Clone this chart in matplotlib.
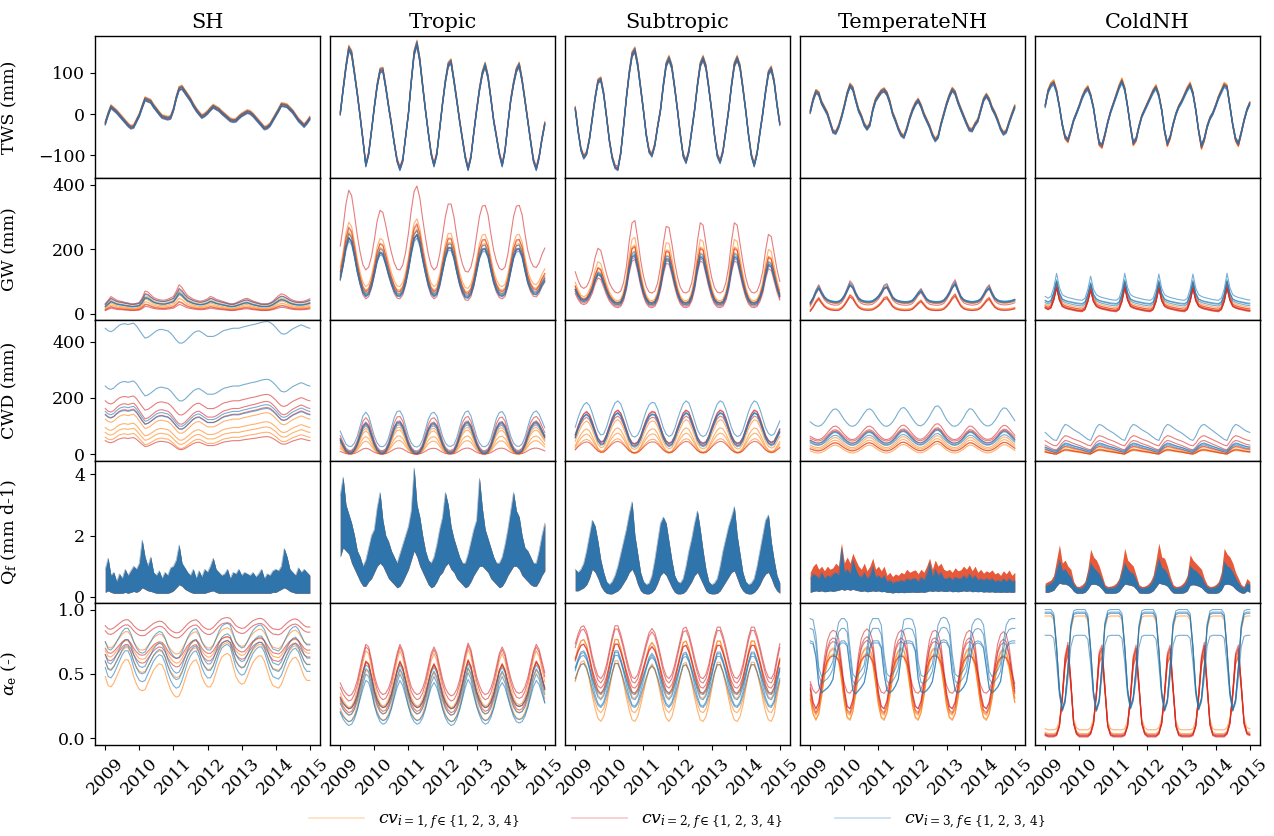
import numpy as np
import matplotlib
matplotlib.use("Agg")
import matplotlib.pyplot as plt
from matplotlib.lines import Line2D

plt.rcParams['font.family'] = 'DejaVu Serif'
plt.rcParams['mathtext.fontset'] = 'dejavuserif'

# monthly samples, Jan 2009 .. Jan 2015
months = np.arange(73)
t = 2009 + months / 12.0

regions = ['SH', 'Tropic', 'Subtropic', 'TemperateNH', 'ColdNH']
row_labels = ['TWS (mm)', 'GW (mm)', 'CWD (mm)', r'Q$_\mathrm{f}$ (mm d-1)', r'$\alpha_\mathrm{e}$ (-)']
row_ylim = [(-155, 190), (-18, 421), (-25, 478), (-0.2, 4.42), (-0.05, 1.05)]
row_yticks = [[-100, 0, 100], [0, 200, 400], [0, 200, 400], [0, 2, 4], [0.0, 0.5, 1.0]]
year_ticks = [2009, 2010, 2011, 2012, 2013, 2014, 2015]
cv_colors = {1: '#ff7f0e', 2: '#d62728', 3: '#1f77b4'}

# ---------------- TWS (mm) ----------------
tws_sh = [-22, 0, 18, 12, 6, -2, -10, -18, -26, -32, -30, -16,
          -2, 18, 37, 34, 31, 20, 11, 2, -6, -8, -10, -8,
          11, 40, 62, 65, 55, 45, 35, 22, 11, 2, -6, -2,
          4, 12, 19, 15, 11, 4, -2, -8, -14, -16, -15, -8,
          -2, 2, 6, 4, -2, -10, -18, -26, -34, -32, -26, -14,
          -2, 10, 23, 22, 20, 13, 6, -4, -14, -21, -28, -20,
          -10]
tws_tropic = [2, 60, 115, 160, 148, 100, 50, -5, -63, -124, -96, -40,
              18, 70, 106, 108, 67, 20, -23, -70, -112, -133, -112, -55,
              2, 80, 148, 172, 132, 70, 10, -45, -96, -124, -96, -35,
              26, 80, 120, 128, 83, 35, -15, -60, -104, -133, -104, -45,
              10, 60, 99, 120, 91, 40, -15, -55, -96, -124, -88, -25,
              34, 75, 107, 120, 83, 35, -15, -65, -112, -133, -104, -60,
              -23]
tws_subtropic = [14, -40, -85, -105, -95, -60, -10, 40, 80, 85, 50, -5,
                 -63, -105, -128, -133, -95, -30, 40, 100, 145, 156, 120, 65,
                 10, -50, -90, -100, -75, -30, 10, 70, 120, 136, 115, 65,
                 10, -50, -100, -116, -90, -40, 10, 70, 120, 136, 115, 65,
                 10, -50, -100, -116, -90, -40, 10, 70, 120, 136, 115, 65,
                 10, -50, -100, -124, -95, -45, 2, 55, 100, 111, 80, 25,
                 -23]
tws_temp = [6, 35, 55, 50, 28, 15, 2, -20, -42, -45, -30, -7,
            20, 50, 70, 62, 35, 10, -5, -25, -35, -25, 10, 34,
            45, 55, 59, 50, 30, 2, -15, -35, -50, -55, -35, -10,
            10, 25, 34, 20, 0, -15, -30, -50, -63, -55, -25, 0,
            25, 45, 60, 52, 30, 12, -5, -22, -37, -39, -25, -15,
            10, 35, 46, 35, 15, 2, -15, -35, -47, -42, -20, 0,
            18]
tws_cold = [20, 55, 70, 76, 55, 18, -25, -55, -63, -40, -15, 2,
            20, 40, 55, 63, 45, 15, -30, -70, -76, -50, -20, 5,
            25, 45, 65, 80, 60, 18, -30, -70, -60, -30, -5, 10,
            25, 40, 55, 65, 45, 10, -40, -72, -55, -25, 0, 18,
            30, 45, 60, 71, 50, 10, -40, -78, -60, -30, -10, 2,
            20, 40, 55, 70, 65, 20, -25, -60, -72, -45, -15, 10,
            26]

# ---------------- GW (mm) ----------------
gw_sh = [22, 30, 38, 34, 30, 28, 27, 25, 24, 22, 22, 23,
         25, 35, 50, 48, 42, 36, 33, 31, 30, 30, 32, 35,
         38, 50, 64, 58, 48, 40, 36, 32, 30, 28, 28, 30,
         33, 38, 36, 32, 30, 28, 26, 24, 22, 22, 24, 27,
         30, 33, 34, 31, 28, 26, 24, 22, 22, 22, 24, 28,
         34, 40, 44, 42, 38, 33, 30, 28, 27, 27, 28, 30,
         33]
gw_tropic = [115, 160, 215, 248, 235, 190, 140, 100, 70, 58, 65, 90,
             130, 175, 200, 195, 165, 130, 100, 75, 60, 58, 70, 100,
             145, 200, 245, 258, 230, 180, 135, 95, 68, 58, 65, 95,
             140, 185, 215, 215, 185, 140, 100, 72, 55, 53, 65, 95,
             140, 185, 210, 212, 190, 145, 105, 78, 62, 58, 65, 95,
             140, 185, 210, 212, 190, 145, 105, 80, 66, 64, 75, 95,
             110]
gw_subtropic = [74, 55, 42, 38, 42, 55, 75, 105, 125, 120, 95, 70,
                50, 38, 30, 28, 32, 50, 85, 140, 180, 185, 145, 100,
                65, 42, 30, 28, 32, 50, 85, 135, 172, 170, 135, 95,
                62, 40, 30, 28, 32, 50, 85, 140, 180, 175, 135, 95,
                62, 40, 30, 28, 32, 50, 85, 140, 180, 175, 135, 95,
                62, 40, 30, 28, 32, 48, 75, 120, 155, 150, 115, 80,
                53]
gw_temp = [30, 45, 65, 79, 62, 48, 40, 36, 34, 33, 34, 40,
           52, 70, 89, 80, 60, 45, 38, 35, 34, 34, 36, 42,
           50, 62, 78, 82, 65, 48, 40, 36, 34, 33, 33, 34,
           38, 48, 60, 69, 55, 42, 36, 34, 33, 33, 34, 38,
           48, 62, 80, 92, 70, 50, 40, 36, 34, 33, 34, 36,
           42, 55, 70, 79, 60, 45, 38, 35, 34, 34, 35, 37,
           40]
gw_cold = [35, 30, 35, 60, 100, 60, 40, 35, 32, 30, 28, 26,
           25, 24, 30, 55, 92, 55, 40, 35, 32, 30, 28, 26,
           25, 24, 30, 55, 100, 60, 40, 35, 32, 30, 28, 26,
           25, 24, 30, 55, 98, 58, 40, 35, 32, 30, 28, 26,
           25, 24, 30, 55, 98, 58, 40, 35, 32, 30, 28, 26,
           25, 24, 30, 55, 100, 60, 40, 35, 32, 30, 28, 26,
           25]

# ---------------- CWD (mm) ----------------
cwd_sh = [147, 138, 135, 140, 150, 158, 162, 163, 160, 163, 165, 155,
          140, 125, 112, 115, 122, 130, 138, 142, 143, 140, 138, 130,
          118, 105, 95, 94, 100, 110, 120, 130, 136, 138, 132, 125,
          118, 118, 118, 122, 128, 135, 140, 142, 145, 147, 147, 147,
          150, 153, 155, 158, 160, 162, 165, 168, 170, 171, 168, 160,
          150, 138, 128, 126, 130, 138, 145, 150, 155, 159, 155, 150,
          147]
cwd_tropic = [50, 30, 12, 5, 5, 15, 35, 65, 95, 106, 95, 65,
              35, 15, 5, 4, 10, 30, 60, 90, 108, 110, 95, 65,
              35, 15, 5, 3, 8, 25, 55, 85, 102, 106, 95, 65,
              35, 15, 6, 5, 10, 30, 60, 90, 106, 110, 95, 65,
              35, 15, 5, 4, 10, 28, 58, 88, 105, 108, 95, 65,
              35, 15, 6, 5, 12, 32, 62, 90, 105, 110, 100, 80,
              60]
cwd_subtropic = [60, 90, 115, 132, 140, 130, 105, 75, 48, 35, 38, 60,
                 90, 118, 138, 145, 135, 110, 80, 50, 32, 28, 35, 55,
                 85, 112, 132, 140, 138, 118, 88, 58, 38, 30, 35, 55,
                 85, 112, 135, 145, 138, 112, 82, 52, 35, 30, 35, 55,
                 85, 112, 135, 145, 140, 118, 88, 58, 38, 30, 33, 50,
                 80, 110, 132, 145, 140, 118, 88, 58, 40, 33, 38, 58,
                 80]
cwd_temp = [45, 40, 36, 35, 38, 45, 55, 65, 73, 75, 70, 60,
            50, 42, 36, 35, 38, 45, 55, 65, 73, 75, 70, 60,
            50, 42, 36, 35, 38, 45, 55, 67, 76, 78, 72, 62,
            52, 43, 37, 36, 40, 48, 58, 70, 80, 82, 75, 62,
            50, 42, 36, 35, 38, 45, 55, 67, 75, 74, 66, 56,
            47, 40, 36, 36, 40, 48, 58, 70, 77, 76, 68, 58,
            48]
cwd_cold = [25, 20, 15, 11, 10, 20, 32, 40, 38, 34, 30, 27,
            24, 20, 16, 12, 10, 22, 34, 40, 38, 34, 30, 27,
            24, 20, 16, 12, 10, 22, 34, 40, 38, 34, 30, 27,
            24, 20, 16, 12, 10, 22, 34, 40, 38, 34, 30, 27,
            24, 20, 16, 12, 10, 18, 30, 38, 40, 36, 32, 28,
            24, 20, 16, 12, 10, 22, 34, 40, 38, 34, 30, 27,
            25]

# ---------------- Qf (mm d-1): band of the daily ensemble ----------------
qf_sh_hi = [0.9, 1.26, 0.7, 0.8, 0.5, 0.75, 0.6, 0.9, 0.7, 0.85, 1.0, 0.9,
            1.1, 1.85, 1.3, 1.0, 1.3, 0.8, 0.7, 0.85, 0.6, 0.8, 0.7, 0.95,
            1.0, 1.2, 1.69, 1.1, 0.95, 0.8, 0.7, 0.9, 0.6, 0.85, 0.65, 0.9,
            0.8, 1.0, 1.26, 0.9, 0.8, 0.7, 0.75, 0.9, 0.6, 0.8, 0.75, 0.9,
            0.7, 0.8, 0.75, 0.7, 0.8, 0.65, 0.75, 0.9, 0.6, 0.75, 0.7, 0.85,
            0.9, 0.85, 1.0, 1.58, 1.3, 0.9, 0.8, 0.7, 0.95, 0.8, 0.9, 0.8,
            0.7]
qf_sh_lo = [0.15, 0.2, 0.15, 0.12, 0.12, 0.12, 0.12, 0.15, 0.12, 0.15, 0.18, 0.15,
            0.2, 0.3, 0.25, 0.2, 0.18, 0.15, 0.12, 0.12, 0.12, 0.12, 0.12, 0.15,
            0.2, 0.3, 0.4, 0.35, 0.25, 0.2, 0.15, 0.12, 0.12, 0.12, 0.12, 0.12,
            0.15, 0.18, 0.2, 0.15, 0.12, 0.12, 0.12, 0.12, 0.12, 0.12, 0.12, 0.12,
            0.12, 0.12, 0.12, 0.12, 0.12, 0.12, 0.12, 0.12, 0.12, 0.12, 0.12, 0.15,
            0.15, 0.2, 0.25, 0.3, 0.25, 0.18, 0.15, 0.12, 0.12, 0.12, 0.12, 0.12,
            0.12]
qf_tropic_hi = [3.3, 3.9, 3.0, 2.7, 2.4, 2.0, 1.5, 1.3, 1.0, 1.2, 1.6, 2.0,
                2.2, 2.9, 3.4, 2.5, 2.0, 1.8, 1.5, 1.3, 1.1, 1.4, 1.7, 2.0,
                2.3, 2.8, 4.2, 3.0, 2.6, 2.0, 1.5, 1.2, 1.1, 1.3, 1.7, 2.2,
                2.6, 3.4, 3.0, 2.3, 1.9, 1.6, 1.3, 1.1, 1.1, 1.4, 1.8, 2.2,
                2.5, 3.86, 2.9, 2.2, 1.9, 1.6, 1.3, 1.1, 1.1, 1.3, 1.7, 2.2,
                2.8, 3.4, 2.8, 2.6, 2.0, 1.6, 1.5, 1.3, 1.1, 1.1, 1.5, 2.0,
                2.4]
qf_tropic_lo = [1.3, 1.6, 1.5, 1.4, 1.1, 0.9, 0.7, 0.5, 0.35, 0.35, 0.5, 0.6,
                0.8, 1.0, 1.1, 1.0, 0.8, 0.6, 0.5, 0.4, 0.3, 0.35, 0.5, 0.7,
                0.9, 1.2, 1.5, 1.3, 1.0, 0.8, 0.6, 0.4, 0.3, 0.35, 0.5, 0.7,
                0.8, 1.0, 1.1, 0.9, 0.8, 0.6, 0.5, 0.4, 0.3, 0.35, 0.5, 0.7,
                0.85, 1.0, 1.0, 0.9, 0.8, 0.6, 0.5, 0.4, 0.3, 0.35, 0.5, 0.7,
                0.85, 1.0, 1.0, 0.9, 0.7, 0.6, 0.5, 0.4, 0.35, 0.35, 0.5, 0.7,
                0.85]
qf_subtropic_hi = [0.9, 0.8, 0.9, 1.1, 1.5, 2.0, 2.5, 2.3, 1.8, 1.2, 0.8, 0.5,
                   0.4, 0.5, 0.7, 1.0, 1.4, 1.8, 2.2, 2.7, 3.1, 2.0, 1.4, 0.8,
                   0.5, 0.4, 0.45, 0.7, 1.2, 1.8, 2.4, 2.6, 2.4, 1.8, 1.2, 0.7,
                   0.5, 0.45, 0.6, 1.0, 1.5, 1.9, 2.4, 2.8, 2.2, 1.5, 0.9, 0.5,
                   0.4, 0.45, 0.6, 1.0, 1.5, 1.9, 2.3, 2.6, 2.94, 2.0, 1.4, 0.8,
                   0.5, 0.4, 0.45, 0.6, 1.0, 1.5, 2.0, 2.5, 2.67, 1.8, 1.2, 0.7,
                   0.45]
qf_subtropic_lo = [0.2, 0.2, 0.25, 0.3, 0.4, 0.6, 0.9, 0.8, 0.6, 0.35, 0.2, 0.12,
                   0.1, 0.1, 0.15, 0.2, 0.3, 0.45, 0.6, 0.8, 0.9, 0.7, 0.4, 0.2,
                   0.12, 0.1, 0.1, 0.15, 0.25, 0.45, 0.7, 0.8, 0.7, 0.5, 0.3, 0.15,
                   0.1, 0.1, 0.12, 0.2, 0.35, 0.5, 0.7, 0.8, 0.6, 0.4, 0.2, 0.12,
                   0.1, 0.1, 0.12, 0.2, 0.35, 0.5, 0.65, 0.8, 0.85, 0.6, 0.35, 0.2,
                   0.12, 0.1, 0.1, 0.15, 0.25, 0.4, 0.6, 0.75, 0.8, 0.6, 0.35, 0.2,
                   0.12]
qf_temp_hi = [0.6, 0.75, 0.7, 0.6, 0.8, 0.6, 0.7, 0.65, 0.75, 0.8, 0.7, 1.6,
              0.8, 0.9, 0.75, 1.2, 0.9, 0.7, 0.65, 0.8, 0.6, 0.7, 1.0, 0.65,
              0.7, 0.6, 0.7, 0.5, 0.55, 0.45, 0.5, 0.5, 0.55, 0.5, 0.6, 0.55,
              0.6, 0.6, 0.5, 0.65, 0.55, 0.75, 1.1, 0.65, 0.9, 0.7, 0.8, 0.6,
              0.6, 0.65, 0.55, 0.65, 0.6, 0.6, 0.7, 0.6, 0.75, 0.6, 0.7, 0.55,
              0.6, 0.55, 0.6, 0.55, 0.6, 0.5, 0.55, 0.5, 0.6, 0.5, 0.6, 0.5,
              0.55]
qf_temp_red_hi = [0.8, 1.0, 1.1, 0.9, 1.0, 0.85, 1.0, 0.9, 0.95, 1.1, 1.0, 1.75,
                  1.1, 1.3, 1.1, 1.42, 1.2, 1.0, 0.9, 1.1, 0.85, 1.0, 1.26, 0.9,
                  1.0, 0.85, 1.0, 0.7, 0.8, 0.66, 0.75, 0.7, 0.8, 0.75, 0.9, 0.8,
                  0.85, 0.88, 0.75, 0.9, 0.8, 1.0, 1.26, 0.9, 1.2, 1.0, 1.1, 0.9,
                  0.85, 0.9, 0.8, 0.95, 0.85, 0.88, 1.0, 0.9, 1.04, 0.85, 1.0, 0.8,
                  0.9, 0.77, 0.85, 0.8, 0.88, 0.75, 0.8, 0.7, 0.85, 0.75, 0.88, 0.7,
                  0.8]
qf_temp_lo = [0.15, 0.18, 0.2, 0.18, 0.2, 0.17, 0.18, 0.2, 0.18, 0.2, 0.22, 0.25,
              0.22, 0.25, 0.22, 0.25, 0.22, 0.2, 0.18, 0.2, 0.17, 0.18, 0.2, 0.18,
              0.2, 0.17, 0.18, 0.15, 0.15, 0.13, 0.15, 0.14, 0.15, 0.14, 0.15, 0.15,
              0.16, 0.15, 0.15, 0.16, 0.15, 0.17, 0.2, 0.18, 0.2, 0.18, 0.2, 0.18,
              0.18, 0.2, 0.17, 0.18, 0.17, 0.18, 0.2, 0.18, 0.2, 0.17, 0.18, 0.17,
              0.18, 0.16, 0.17, 0.16, 0.17, 0.15, 0.16, 0.15, 0.16, 0.15, 0.16, 0.15,
              0.16]
qf_cold_hi = [0.35, 0.4, 0.45, 0.55, 0.9, 1.2, 0.85, 0.9, 0.75, 0.65, 0.4, 0.3,
              0.28, 0.3, 0.4, 0.7, 1.1, 0.95, 0.85, 0.75, 0.55, 0.32, 0.28, 0.3,
              0.3, 0.35, 0.5, 0.8, 1.1, 0.9, 0.8, 0.75, 0.55, 0.32, 0.28, 0.3,
              0.32, 0.4, 0.55, 0.9, 1.25, 0.95, 0.9, 0.75, 0.5, 0.32, 0.28, 0.3,
              0.32, 0.4, 0.55, 1.0, 0.9, 0.85, 0.75, 0.65, 0.45, 0.32, 0.28, 0.3,
              0.32, 0.4, 0.6, 1.15, 1.0, 0.95, 0.8, 0.6, 0.45, 0.32, 0.28, 0.45,
              0.4]
qf_cold_red_hi = [0.45, 0.5, 0.55, 0.7, 1.2, 1.69, 1.1, 1.2, 1.0, 0.9, 0.5, 0.35,
                  0.34, 0.4, 0.5, 0.9, 1.55, 1.3, 1.2, 1.0, 0.7, 0.4, 0.34, 0.35,
                  0.38, 0.45, 0.6, 1.0, 1.58, 1.2, 1.1, 1.0, 0.7, 0.4, 0.34, 0.35,
                  0.4, 0.5, 0.7, 1.2, 1.75, 1.3, 1.26, 1.0, 0.66, 0.4, 0.34, 0.35,
                  0.4, 0.5, 0.7, 1.37, 1.2, 1.1, 1.0, 0.9, 0.6, 0.4, 0.34, 0.35,
                  0.4, 0.5, 0.8, 1.58, 1.4, 1.3, 1.1, 0.8, 0.6, 0.4, 0.34, 0.6,
                  0.5]
qf_cold_lo = [0.15, 0.15, 0.18, 0.22, 0.35, 0.45, 0.42, 0.42, 0.38, 0.3, 0.18, 0.12,
              0.12, 0.12, 0.15, 0.25, 0.4, 0.42, 0.4, 0.35, 0.25, 0.13, 0.12, 0.12,
              0.12, 0.13, 0.18, 0.3, 0.42, 0.4, 0.38, 0.35, 0.25, 0.13, 0.12, 0.12,
              0.12, 0.14, 0.2, 0.32, 0.45, 0.42, 0.4, 0.35, 0.22, 0.13, 0.12, 0.12,
              0.12, 0.14, 0.2, 0.38, 0.4, 0.38, 0.35, 0.3, 0.2, 0.13, 0.12, 0.12,
              0.12, 0.14, 0.22, 0.4, 0.42, 0.4, 0.35, 0.25, 0.18, 0.13, 0.12, 0.2,
              0.15]

# ---------------- alpha_e (-) ----------------
alpha_sh = [0.5, 0.43, 0.42, 0.45, 0.5, 0.55, 0.6, 0.63, 0.63, 0.58, 0.5, 0.44,
            0.4, 0.39, 0.4, 0.45, 0.5, 0.55, 0.58, 0.6, 0.59, 0.54, 0.46, 0.4,
            0.36, 0.34, 0.35, 0.4, 0.47, 0.54, 0.59, 0.62, 0.63, 0.58, 0.5, 0.45,
            0.42, 0.42, 0.46, 0.53, 0.6, 0.65, 0.67, 0.68, 0.66, 0.58, 0.5, 0.46,
            0.44, 0.45, 0.5, 0.56, 0.61, 0.64, 0.66, 0.66, 0.62, 0.55, 0.48, 0.43,
            0.42, 0.41, 0.44, 0.5, 0.56, 0.61, 0.64, 0.65, 0.62, 0.56, 0.5, 0.47,
            0.47]
alpha_tropic = [0.3, 0.25, 0.22, 0.2, 0.21, 0.25, 0.32, 0.42, 0.52, 0.6, 0.58, 0.48,
                0.36, 0.28, 0.23, 0.21, 0.22, 0.26, 0.33, 0.43, 0.53, 0.6, 0.55, 0.45,
                0.35, 0.27, 0.23, 0.21, 0.22, 0.26, 0.33, 0.43, 0.53, 0.58, 0.53, 0.43,
                0.33, 0.26, 0.22, 0.2, 0.21, 0.25, 0.32, 0.42, 0.53, 0.61, 0.56, 0.45,
                0.35, 0.28, 0.23, 0.21, 0.22, 0.26, 0.33, 0.43, 0.53, 0.58, 0.53, 0.43,
                0.34, 0.27, 0.23, 0.22, 0.23, 0.27, 0.34, 0.44, 0.54, 0.6, 0.56, 0.47,
                0.38]
alpha_subtropic = [0.55, 0.62, 0.67, 0.68, 0.64, 0.56, 0.46, 0.38, 0.32, 0.3, 0.33, 0.4,
                   0.5, 0.6, 0.68, 0.68, 0.62, 0.54, 0.45, 0.37, 0.31, 0.3, 0.33, 0.4,
                   0.48, 0.56, 0.63, 0.66, 0.63, 0.56, 0.47, 0.38, 0.32, 0.3, 0.33, 0.4,
                   0.49, 0.58, 0.66, 0.67, 0.62, 0.54, 0.45, 0.37, 0.31, 0.3, 0.33, 0.4,
                   0.5, 0.6, 0.67, 0.67, 0.61, 0.53, 0.44, 0.36, 0.31, 0.3, 0.33, 0.4,
                   0.5, 0.6, 0.67, 0.67, 0.61, 0.53, 0.44, 0.36, 0.31, 0.3, 0.34, 0.45,
                   0.55]
alpha_temp_red = [0.38, 0.25, 0.2, 0.25, 0.4, 0.58, 0.7, 0.76, 0.78, 0.77, 0.72, 0.55,
                  0.35, 0.22, 0.2, 0.27, 0.42, 0.6, 0.72, 0.77, 0.79, 0.77, 0.7, 0.52,
                  0.33, 0.22, 0.2, 0.26, 0.4, 0.57, 0.7, 0.76, 0.78, 0.76, 0.68, 0.5,
                  0.32, 0.22, 0.2, 0.26, 0.4, 0.58, 0.71, 0.77, 0.78, 0.76, 0.68, 0.5,
                  0.32, 0.22, 0.2, 0.25, 0.38, 0.56, 0.7, 0.76, 0.78, 0.76, 0.68, 0.5,
                  0.32, 0.22, 0.2, 0.25, 0.38, 0.55, 0.68, 0.75, 0.77, 0.75, 0.66, 0.5,
                  0.35]
alpha_temp_blue = [0.93, 0.92, 0.8, 0.55, 0.48, 0.5, 0.52, 0.55, 0.6, 0.78, 0.9, 0.93,
                   0.93, 0.9, 0.7, 0.5, 0.47, 0.5, 0.53, 0.57, 0.7, 0.88, 0.93, 0.93,
                   0.93, 0.88, 0.65, 0.5, 0.48, 0.5, 0.54, 0.6, 0.8, 0.92, 0.93, 0.93,
                   0.92, 0.85, 0.6, 0.49, 0.48, 0.5, 0.53, 0.58, 0.72, 0.88, 0.93, 0.94,
                   0.93, 0.88, 0.65, 0.5, 0.48, 0.5, 0.53, 0.58, 0.72, 0.88, 0.92, 0.93,
                   0.92, 0.88, 0.7, 0.52, 0.48, 0.5, 0.53, 0.58, 0.75, 0.88, 0.92, 0.93,
                   0.93]
alpha_cold_red = [0.03, 0.02, 0.02, 0.02, 0.03, 0.1, 0.32, 0.62, 0.72, 0.45, 0.12, 0.04,
                  0.02, 0.02, 0.02, 0.02, 0.04, 0.12, 0.35, 0.65, 0.7, 0.4, 0.1, 0.03,
                  0.02, 0.02, 0.02, 0.02, 0.03, 0.1, 0.32, 0.62, 0.7, 0.42, 0.12, 0.04,
                  0.02, 0.02, 0.02, 0.02, 0.04, 0.12, 0.35, 0.64, 0.7, 0.4, 0.1, 0.03,
                  0.02, 0.02, 0.02, 0.02, 0.03, 0.1, 0.33, 0.62, 0.72, 0.42, 0.11, 0.03,
                  0.02, 0.02, 0.02, 0.02, 0.04, 0.12, 0.35, 0.64, 0.7, 0.42, 0.12, 0.04,
                  0.03]
alpha_cold_blue = [1.0, 1.0, 1.0, 0.97, 0.72, 0.38, 0.22, 0.3, 0.55, 0.88, 0.99, 1.0,
                   1.0, 1.0, 1.0, 0.96, 0.7, 0.36, 0.22, 0.3, 0.58, 0.9, 0.99, 1.0,
                   1.0, 1.0, 1.0, 0.97, 0.72, 0.38, 0.24, 0.32, 0.55, 0.88, 0.99, 1.0,
                   1.0, 1.0, 1.0, 0.96, 0.7, 0.36, 0.22, 0.3, 0.57, 0.9, 0.99, 1.0,
                   1.0, 1.0, 1.0, 0.97, 0.72, 0.38, 0.23, 0.31, 0.56, 0.89, 0.99, 1.0,
                   1.0, 1.0, 1.0, 0.97, 0.7, 0.37, 0.22, 0.3, 0.56, 0.88, 0.99, 1.0,
                   1.0]

# ensemble members: (cv i, scale, shift) relative to the curve above
tws_members = [(1, 1.0, 0), (1, 1.03, 3), (1, 0.97, -3), (1, 1.0, 5),
               (2, 1.0, -2), (2, 1.02, 0), (2, 0.98, 2), (2, 1.0, -4),
               (3, 1.0, 0), (3, 0.98, -3), (3, 1.02, 2), (3, 1.0, -5)]
tws_cold_members = [(1, 1.08, -2), (1, 1.05, 3), (1, 1.1, 0), (1, 1.0, 2),
                    (2, 1.02, -3), (2, 1.0, 0), (2, 1.05, -1), (2, 0.98, 2),
                    (3, 1.0, 0), (3, 0.97, -2), (3, 1.0, 3), (3, 0.98, -4)]
gw_sh_members = [(1, 1.0, -5), (1, 0.8, -3), (1, 0.6, 0), (1, 1.1, 0),
                 (2, 1.4, 0), (2, 1.2, 2), (2, 0.45, 0), (2, 0.6, -2),
                 (3, 1.0, 0), (3, 1.1, 5), (3, 0.9, 3), (3, 1.05, -2)]
gw_tropic_members = [(1, 1.05, 23), (1, 1.0, 15), (1, 0.95, 12), (1, 1.0, 5),
                     (2, 1.3, 60), (2, 1.0, -12), (2, 0.95, 0), (2, 1.05, 8),
                     (3, 1.0, 0), (3, 0.95, -3), (3, 0.9, 2), (3, 0.92, 8)]
gw_subtropic_members = [(1, 1.25, 5), (1, 1.1, 5), (1, 1.05, 0), (1, 1.15, 0),
                        (2, 1.43, 24), (2, 1.0, -5), (2, 0.95, -8), (2, 1.1, 3),
                        (3, 1.0, 0), (3, 0.95, 5), (3, 0.9, 8), (3, 1.05, -3)]
gw_temp_members = [(1, 1.1, -5), (1, 0.8, -12), (1, 0.7, -10), (1, 1.0, 0),
                   (2, 1.2, -5), (2, 0.85, -18), (2, 0.75, -15), (2, 1.1, -10),
                   (3, 1.0, 0), (3, 0.95, 5), (3, 1.05, 3), (3, 0.9, 8)]
gw_cold_members = [(1, 0.95, -14), (1, 0.9, -8), (1, 1.0, -5), (1, 1.05, -16),
                   (2, 1.0, -18), (2, 0.95, -15), (2, 0.9, -12), (2, 1.0, -10),
                   (3, 1.1, 15), (3, 1.0, 5), (3, 0.9, 10), (3, 1.0, 0)]
cwd_sh_members = [(1, 0.8, -40), (1, 0.75, -50), (1, 0.85, -30), (1, 0.95, -15),
                  (2, 0.95, 50), (2, 1.05, 8), (2, 0.6, -40), (2, 1.0, -5),
                  (3, 1.0, 300), (3, 1.0, 95), (3, 1.0, 5), (3, 0.95, 0)]
cwd_tropic_members = [(1, 0.8, -2), (1, 0.6, -1), (1, 0.45, -1), (1, 0.9, -3),
                      (2, 1.15, 8), (2, 1.05, 3), (2, 0.2, 0), (2, 1.0, 0),
                      (3, 1.2, 22), (3, 1.0, 5), (3, 0.95, 0), (3, 1.05, -2)]
cwd_subtropic_members = [(1, 0.75, -15), (1, 0.6, -12), (1, 0.45, -10), (1, 0.9, -8),
                         (2, 1.05, 5), (2, 0.9, 5), (2, 0.35, -5), (2, 1.0, 10),
                         (3, 1.1, 30), (3, 1.0, 0), (3, 0.95, 10), (3, 1.05, -5)]
cwd_temp_members = [(1, 0.75, -15), (1, 0.7, -20), (1, 0.8, -10), (1, 0.9, -8),
                    (2, 1.2, 10), (2, 1.0, 12), (2, 0.7, -12), (2, 1.1, 0),
                    (3, 1.55, 45), (3, 1.0, 5), (3, 0.9, 0), (3, 1.1, -5)]
cwd_cold_members = [(1, 0.6, -5), (1, 0.5, -4), (1, 0.8, -6), (1, 0.4, -3),
                    (2, 1.2, 18), (2, 1.1, 5), (2, 0.5, -4), (2, 0.7, 0),
                    (3, 1.9, 30), (3, 1.0, 0), (3, 0.8, 5), (3, 0.9, -3)]
alpha_sh_members = [(1, 1.0, -0.02), (1, 0.6, 0.45), (1, 0.6, 0.38), (1, 0.8, 0.2),
                    (2, 0.35, 0.7), (2, 0.35, 0.66), (2, 0.5, 0.45), (2, 0.6, 0.35),
                    (3, 1.0, 0.05), (3, 0.9, 0.2), (3, 0.9, 0.15), (3, 0.8, 0.35)]
alpha_tropic_members = [(1, 1.1, 0.02), (1, 1.0, -0.07), (1, 0.9, 0.05), (1, 1.05, -0.03),
                        (2, 1.0, 0.13), (2, 1.05, 0.08), (2, 0.9, 0.05), (2, 1.0, 0.0),
                        (3, 0.9, 0.0), (3, 0.8, -0.03), (3, 0.85, 0.06), (3, 1.0, -0.1)]
alpha_subtropic_members = [(1, 1.24, -0.24), (1, 1.2, -0.05), (1, 1.1, 0.02), (1, 1.0, -0.1),
                           (2, 1.08, 0.14), (2, 1.1, 0.1), (2, 1.0, 0.05), (2, 0.9, 0.12),
                           (3, 1.0, 0.0), (3, 0.9, -0.03), (3, 1.1, -0.08), (3, 0.8, 0.1)]
alpha_temp_red_members = [(1, 0.9, 0.0), (1, 0.85, -0.02), (1, 0.8, 0.03), (1, 0.95, -0.05),
                          (2, 1.0, 0.0), (2, 1.05, 0.02), (2, 0.9, 0.05), (2, 0.5, 0.25)]
alpha_temp_blue_members = [(3, 1.0, 0.0), (3, 0.95, -0.03), (3, 0.9, -0.08), (3, 0.85, -0.05)]
alpha_cold_red_members = [(1, 0.9, 0.02), (1, 1.0, 0.0), (1, 0.85, 0.05),
                          (2, 1.0, 0.0), (2, 0.95, 0.01), (2, 0.9, 0.0), (2, 1.05, -0.01)]
alpha_cold_blue_members = [(1, 0.95, 0.0), (3, 1.0, 0.0), (3, 0.98, 0.0),
                           (3, 0.95, 0.02), (3, 0.75, 0.05)]

line_panels = {
    (0, 0): [(tws_sh, tws_members)], (0, 1): [(tws_tropic, tws_members)],
    (0, 2): [(tws_subtropic, tws_members)], (0, 3): [(tws_temp, tws_members)],
    (0, 4): [(tws_cold, tws_cold_members)],
    (1, 0): [(gw_sh, gw_sh_members)], (1, 1): [(gw_tropic, gw_tropic_members)],
    (1, 2): [(gw_subtropic, gw_subtropic_members)], (1, 3): [(gw_temp, gw_temp_members)],
    (1, 4): [(gw_cold, gw_cold_members)],
    (2, 0): [(cwd_sh, cwd_sh_members)], (2, 1): [(cwd_tropic, cwd_tropic_members)],
    (2, 2): [(cwd_subtropic, cwd_subtropic_members)], (2, 3): [(cwd_temp, cwd_temp_members)],
    (2, 4): [(cwd_cold, cwd_cold_members)],
    (4, 0): [(alpha_sh, alpha_sh_members)], (4, 1): [(alpha_tropic, alpha_tropic_members)],
    (4, 2): [(alpha_subtropic, alpha_subtropic_members)],
    (4, 3): [(alpha_temp_red, alpha_temp_red_members), (alpha_temp_blue, alpha_temp_blue_members)],
    (4, 4): [(alpha_cold_red, alpha_cold_red_members), (alpha_cold_blue, alpha_cold_blue_members)],
}
# Qf: (blue lo, blue hi, red/orange hi)
qf_panels = [(qf_sh_lo, qf_sh_hi, qf_sh_hi), (qf_tropic_lo, qf_tropic_hi, qf_tropic_hi),
             (qf_subtropic_lo, qf_subtropic_hi, qf_subtropic_hi),
             (qf_temp_lo, qf_temp_hi, qf_temp_red_hi), (qf_cold_lo, qf_cold_hi, qf_cold_red_hi)]

fig, axes = plt.subplots(5, 5, figsize=(12.74, 8.36), dpi=100)
fig.subplots_adjust(left=0.0746, right=0.989, top=0.957, bottom=0.109, wspace=0.0444, hspace=0)

for r in range(5):
    for c in range(5):
        ax = axes[r, c]
        if r == 3:
            lo, hi, rhi = qf_panels[c]
            ax.fill_between(t, lo, rhi, color=cv_colors[1], alpha=0.7, lw=0)
            ax.fill_between(t, lo, rhi, color=cv_colors[2], alpha=0.6, lw=0)
            ax.fill_between(t, lo, hi, color=cv_colors[3], alpha=0.92, lw=0)
            ax.plot(t, hi, color=cv_colors[3], lw=0.6, alpha=0.5)
        else:
            curves = []
            for base, members in line_panels[(r, c)]:
                for cv, scale, shift in members:
                    curves.append((cv, shift + scale * np.asarray(base, dtype=float)))
            curves.sort(key=lambda x: x[0])
            for cv, y in curves:
                ax.plot(t, y, color=cv_colors[cv], lw=0.8, alpha=0.6)

        ax.set_xlim(2008.7, 2015.3)
        ax.set_ylim(*row_ylim[r])
        ax.set_yticks(row_yticks[r])
        ax.set_xticks(year_ticks)
        ax.tick_params(labelsize=12.5)
        for sp in ax.spines.values():
            sp.set_linewidth(1.0)
        if c == 0:
            ax.set_ylabel(row_labels[r], fontsize=12.5)
        else:
            ax.tick_params(left=False, labelleft=False)
        if r == 4:
            ax.set_xticklabels([str(y) for y in year_ticks], rotation=45, ha='center')
        else:
            ax.tick_params(bottom=False, labelbottom=False)
        if r == 0:
            ax.set_title(regions[c], fontsize=15)

for ax in axes[:, 0]:
    ax.yaxis.set_label_coords(-0.34, 0.5)

handles = [Line2D([], [], color=cv_colors[i], lw=1.2, alpha=0.25) for i in (1, 2, 3)]
labels = [r'$cv_{i=%d,f\in\{1,\,2,\,3,\,4\}}$' % i for i in (1, 2, 3)]
fig.legend(handles, labels, loc='center', bbox_to_anchor=(0.5314, 0.018), ncol=3,
           frameon=False, fontsize=12.5, handlelength=3.2, columnspacing=3.0)

plt.savefig('out.png', dpi=100)
